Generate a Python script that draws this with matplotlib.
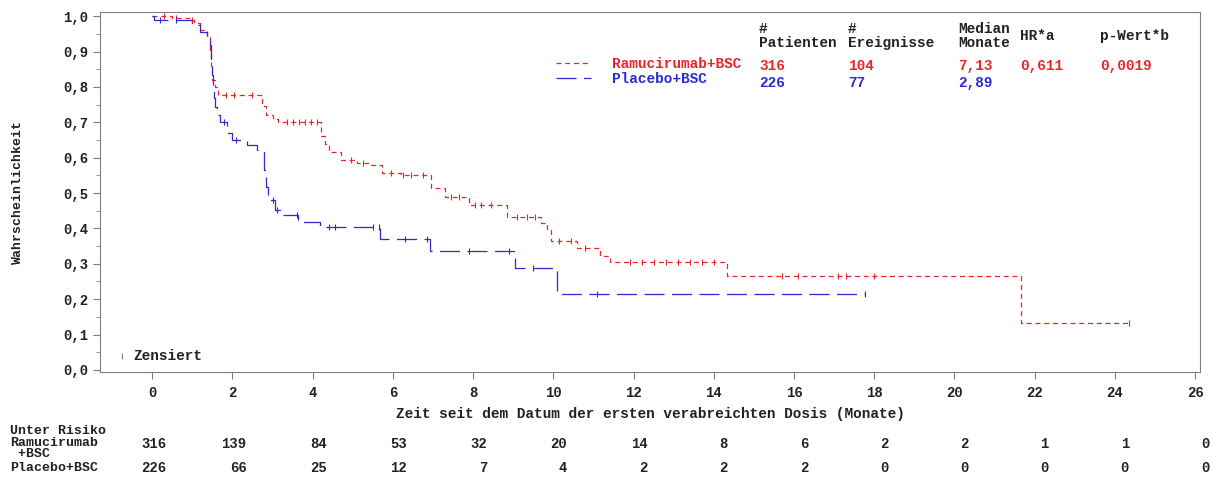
import os
os.environ.setdefault("MPLCONFIGDIR", "/tmp/matplotlib")

import numpy as np
import matplotlib
matplotlib.use("Agg")
import matplotlib.pyplot as plt
from matplotlib.lines import Line2D
from matplotlib.ticker import FuncFormatter, MultipleLocator
import matplotlib.transforms as mtrans

# Kaplan-Meier steps (time in months, survival after the step)
ram_t = [0, 0.5, 0.95, 1.05, 1.2, 1.36, 1.45, 1.47, 1.49, 1.57, 1.65, 2.75, 2.85, 3.0, 3.14,
         4.2, 4.3, 4.4, 4.7, 5.1, 5.44, 5.73, 6.2, 6.95, 7.3, 7.9, 8.85, 9.7, 9.85, 9.95,
         10.6, 11.17, 11.42, 14.34, 21.67, 24.34]
ram_s = [1.0, 0.995, 0.99, 0.98, 0.96, 0.94, 0.90, 0.86, 0.82, 0.80, 0.777, 0.745, 0.72, 0.71, 0.70,
         0.66, 0.64, 0.617, 0.593, 0.585, 0.579, 0.557, 0.55, 0.514, 0.49, 0.466, 0.433, 0.415, 0.395, 0.365,
         0.344, 0.322, 0.305, 0.265, 0.133, 0.133]
ram_cens = [0.3, 0.6, 1.0, 1.85, 2.05, 2.5, 3.35, 3.5, 3.65, 3.8, 3.95, 4.1, 4.95, 5.25, 5.95, 6.25,
            6.45, 6.75, 7.45, 7.65, 8.05, 8.2, 8.45, 9.1, 9.35, 9.55, 10.15, 10.45, 10.8, 11.9, 12.2,
            12.5, 12.8, 13.1, 13.4, 13.7, 14.0, 15.7, 16.1, 17.1, 17.3, 18.0, 24.34]

pla_t = [0, 0.05, 1.0, 1.2, 1.36, 1.45, 1.47, 1.5, 1.52, 1.53, 1.57, 1.61, 1.7, 1.86, 1.99, 2.36,
         2.61, 2.8, 2.84, 2.88, 2.94, 3.05, 3.19, 3.64, 4.19, 5.69, 6.93, 9.05, 10.1, 17.76]
pla_s = [1.0, 0.99, 0.975, 0.956, 0.937, 0.918, 0.876, 0.833, 0.805, 0.768, 0.744, 0.72, 0.70, 0.669, 0.65, 0.636,
         0.621, 0.565, 0.518, 0.49, 0.48, 0.452, 0.438, 0.419, 0.405, 0.369, 0.336, 0.288, 0.215, 0.215]
pla_cens = [0.2, 0.6, 1.8, 2.1, 3.0, 3.1, 3.6, 4.4, 4.55, 5.5, 5.65, 6.3, 6.85, 7.9, 8.9, 9.5, 11.1, 17.76]

risk_times = [0, 2, 4, 6, 8, 10, 12, 14, 16, 18, 20, 22, 24, 26]
ram_risk = [316, 139, 84, 53, 32, 20, 14, 8, 6, 2, 2, 1, 1, 0]
pla_risk = [226, 66, 25, 12, 7, 4, 2, 2, 2, 0, 0, 0, 0, 0]

table_cols = ["#\nPatienten", "#\nEreignisse", "Median\nMonate", "HR*a", "p-Wert*b"]
ram_row = ["316", "104", "7,13", "0,611", "0,0019"]
pla_row = ["226", "77", "2,89", "", ""]

RED = "#e8262a"
BLUE = "#2b2bd0"
GREY = "#7f7f7f"
TXT = "#222222"
FONT = "Liberation Mono"

plt.rcParams["font.family"] = [FONT, "DejaVu Sans Mono"]
plt.rcParams["font.weight"] = "bold"

W, H = 1213, 480
fig = plt.figure(figsize=(W / 100, H / 100), dpi=100)


def px(x, y):
    return x / W, 1 - y / H


ax = fig.add_axes([100 / W, 1 - 372 / H, 1100 / W, 360 / H])
ax.set_xlim(-1.3, 26.12)
ax.set_ylim(-0.006, 1.012)


def km_at(t, s, x):
    i = np.searchsorted(np.asarray(t), np.asarray(x), side="right") - 1
    return np.asarray(s)[i]


ax.step(ram_t, ram_s, where="post", color=RED, lw=0.9, ls=(0, (4, 3)))
ax.step(pla_t, pla_s, where="post", color=BLUE, lw=0.9, ls=(0, (16, 6)))
ax.plot(ram_cens, km_at(ram_t, ram_s, ram_cens), ls="none", marker="|", ms=4, mew=0.8, color=RED)
ax.plot(pla_cens, km_at(pla_t, pla_s, pla_cens), ls="none", marker="|", ms=4, mew=0.8, color=BLUE)

for sp in ax.spines.values():
    sp.set_color(GREY)
ax.set_xticks(risk_times)
ax.yaxis.set_major_locator(MultipleLocator(0.1))
ax.yaxis.set_minor_locator(MultipleLocator(0.05))
ax.yaxis.set_major_formatter(FuncFormatter(lambda v, p: f"{v:.1f}".replace(".", ",")))
ax.tick_params(axis="both", which="both", color=GREY, labelcolor=TXT, labelsize=10, direction="out")
ax.tick_params(axis="both", which="major", length=5)
ax.tick_params(axis="y", which="minor", length=3)
ax.tick_params(axis="x", pad=5)
ax.set_ylabel("Wahrscheinlichkeit", fontsize=9.5, fontweight="bold", color=TXT, labelpad=28)
ax.set_xlabel("Zeit seit dem Datum der ersten verabreichten Dosis (Monate)",
              fontsize=10.4, fontweight="bold", color=TXT, labelpad=5)

# legend with group labels
handles = [Line2D([], [], color=RED, lw=0.9, ls=(0, (4, 3))),
           Line2D([], [], color=BLUE, lw=0.9, ls=(0, (16, 6)))]
leg = ax.legend(handles, ["Ramucirumab+BSC", "Placebo+BSC"], loc="upper left",
                bbox_to_anchor=px(556, 57), bbox_transform=fig.transFigure,
                frameon=False, fontsize=10.4, handlelength=2.4, handletextpad=1.5,
                labelspacing=0.1, borderaxespad=0, borderpad=0)
for txt, c in zip(leg.get_texts(), [RED, BLUE]):
    txt.set_color(c)
    txt.set_fontweight("bold")

col_x = [759, 848, 958, 1020, 1100]
for x, head, rv, pv in zip(col_x, table_cols, ram_row, pla_row):
    fig.text(*px(x, 36), head, fontsize=10.4, fontweight="bold", color=TXT, va="center",
             ha="left", linespacing=1.05)
    fig.text(*px(x, 66), rv, fontsize=10.4, fontweight="bold", color=RED, va="center", ha="left")
    fig.text(*px(x, 83), pv, fontsize=10.4, fontweight="bold", color=BLUE, va="center", ha="left")

# censored legend
ax.plot([0.02], [0.045], transform=ax.transAxes, marker="|", ms=4, mew=0.8, color=GREY, ls="none")
fig.text(*px(133, 356), "Zensiert", fontsize=10.4, fontweight="bold", color=TXT, va="center")

# number at risk
blend = mtrans.blended_transform_factory(ax.transData, fig.transFigure)
fig.text(*px(10, 431), "Unter Risiko", fontsize=9.5, fontweight="bold", color=TXT, va="center")
fig.text(*px(10, 443), "Ramucirumab", fontsize=9.5, fontweight="bold", color=TXT, va="center")
fig.text(*px(10, 454), " +BSC", fontsize=9.5, fontweight="bold", color=TXT, va="center")
fig.text(*px(10, 468), "Placebo+BSC", fontsize=9.5, fontweight="bold", color=TXT, va="center")
for t, r, p in zip(risk_times, ram_risk, pla_risk):
    ax.text(t + 0.35, 1 - 444 / H, str(r), transform=blend, ha="right", va="center",
            fontsize=10, fontweight="bold", color=TXT)
    ax.text(t + 0.35, 1 - 468 / H, str(p), transform=blend, ha="right", va="center",
            fontsize=10, fontweight="bold", color=TXT)

fig.savefig("out.png", dpi=100)
plt.close(fig)
